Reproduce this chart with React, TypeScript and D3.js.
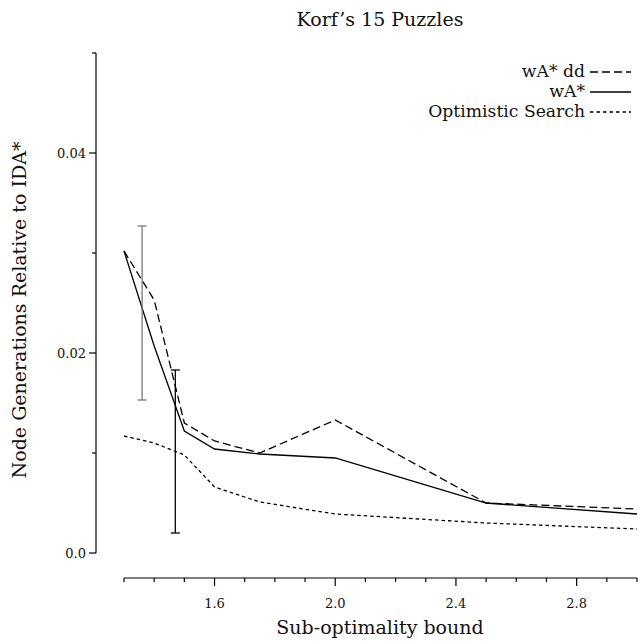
import React from "react";
import * as d3 from "d3";

const W = 638;
const H = 643;

const xValues = [1.3, 1.4, 1.5, 1.6, 1.75, 2.0, 2.5, 3.0];
const wastarDD = [0.0302, 0.0253, 0.013, 0.0112, 0.01, 0.0133, 0.005, 0.0044];
const wastar = [0.0302, 0.0207, 0.0122, 0.0104, 0.0099, 0.0095, 0.005, 0.0039];
const optimistic = [0.0117, 0.011, 0.0098, 0.0066, 0.0051, 0.0039, 0.003, 0.0024];

const errX = [1.36, 1.47];
const errLow = [0.0153, 0.002];
const errHigh = [0.0327, 0.0183];
const errColor = ["#777777", "#000000"];

const xTicks = [1.3, 1.4, 1.5, 1.6, 1.7, 1.8, 1.9, 2.0, 2.1, 2.2, 2.3, 2.4, 2.5, 2.6, 2.7, 2.8, 2.9, 3.0];
const xLabeled = [1.6, 2.0, 2.4, 2.8];
const yTicks = [0, 0.01, 0.02, 0.03, 0.04, 0.05];
const yLabeled = [0, 0.02, 0.04];
const yLabelText = ["0.0", "0.02", "0.04"];

const seriesNames = ["wA* dd", "wA*", "Optimistic Search"];
const seriesDash = ["8,4", "none", "3.5,3"];

const FONT = "'DejaVu Serif', serif";
const BIG = 19;
const LEG = 17.2;
const SMALL = 13;

export default function App() {
  const x = d3.scaleLinear().domain([1.3, 3.0]).range([124, 637]);
  const y = d3.scaleLinear().domain([0, 0.05]).range([553, 53]);
  const line = d3
    .line<[number, number]>()
    .x((d) => x(d[0]))
    .y((d) => y(d[1]));
  const series = [wastarDD, wastar, optimistic];
  const axisY = 578;
  const axisX = 96;

  return (
    <svg
      width={W}
      height={H}
      style={{ position: "absolute", left: 0, top: 0, background: "#fff" }}
      fontFamily={FONT}
    >
      <rect width={W} height={H} fill="#fff" />
      {/* title */}
      <text x={380} y={26} textAnchor="middle" fontSize={BIG} fill="#111">
        Korf’s 15 Puzzles
      </text>
      {/* y axis */}
      <line x1={axisX} x2={axisX} y1={y(0)} y2={y(0.05)} stroke="#000" strokeWidth={1.2} />
      {yTicks.map((t) => {
        const major = yLabeled.some((v) => Math.abs(v - t) < 1e-9);
        return (
          <line
            key={"yt" + t}
            x1={axisX - (major ? 7 : 4)}
            x2={axisX}
            y1={y(t)}
            y2={y(t)}
            stroke="#000"
            strokeWidth={1.2}
          />
        );
      })}
      {yLabeled.map((t, i) => (
        <text
          key={"yl" + t}
          x={86}
          y={y(t)}
          dy="0.35em"
          textAnchor="end"
          fontSize={SMALL}
          fill="#111"
        >
          {yLabelText[i]}
        </text>
      ))}
      <text
        transform={`translate(26, 310) rotate(-90)`}
        textAnchor="middle"
        fontSize={BIG}
        fill="#111"
      >
        Node Generations Relative to IDA*
      </text>
      {/* x axis */}
      <line x1={x(1.3)} x2={x(3.0)} y1={axisY} y2={axisY} stroke="#000" strokeWidth={1.2} />
      {xTicks.map((t) => {
        const major = xLabeled.some((v) => Math.abs(v - t) < 1e-9);
        return (
          <line
            key={"xt" + t}
            x1={x(t)}
            x2={x(t)}
            y1={axisY}
            y2={axisY + (major ? 8 : 4)}
            stroke="#000"
            strokeWidth={1.2}
          />
        );
      })}
      {xLabeled.map((t) => (
        <text key={"xl" + t} x={x(t)} y={608} textAnchor="middle" fontSize={SMALL} fill="#111">
          {t.toFixed(1)}
        </text>
      ))}
      <text x={380} y={634} textAnchor="middle" fontSize={BIG} fill="#111">
        Sub-optimality bound
      </text>
      {/* series */}
      {series.map((s, i) => (
        <path
          key={"s" + i}
          d={line(xValues.map((xv, j) => [xv, s[j]] as [number, number])) || ""}
          fill="none"
          stroke="#000"
          strokeWidth={1.3}
          strokeDasharray={seriesDash[i]}
        />
      ))}
      {/* error bars */}
      {errX.map((ex, i) => (
        <g key={"e" + i} stroke={errColor[i]} strokeWidth={1.3}>
          <line x1={x(ex)} x2={x(ex)} y1={y(errLow[i])} y2={y(errHigh[i])} />
          <line x1={x(ex) - 4.5} x2={x(ex) + 4.5} y1={y(errLow[i])} y2={y(errLow[i])} />
          <line x1={x(ex) - 4.5} x2={x(ex) + 4.5} y1={y(errHigh[i])} y2={y(errHigh[i])} />
        </g>
      ))}
      {/* legend */}
      {seriesNames.map((n, i) => (
        <g key={"lg" + i}>
          <text x={585} y={77 + i * 20} textAnchor="end" fontSize={LEG} fill="#111">
            {n}
          </text>
          <line
            x1={590}
            x2={631}
            y1={72 + i * 20}
            y2={72 + i * 20}
            stroke="#000"
            strokeWidth={1.3}
            strokeDasharray={seriesDash[i]}
          />
        </g>
      ))}
    </svg>
  );
}
